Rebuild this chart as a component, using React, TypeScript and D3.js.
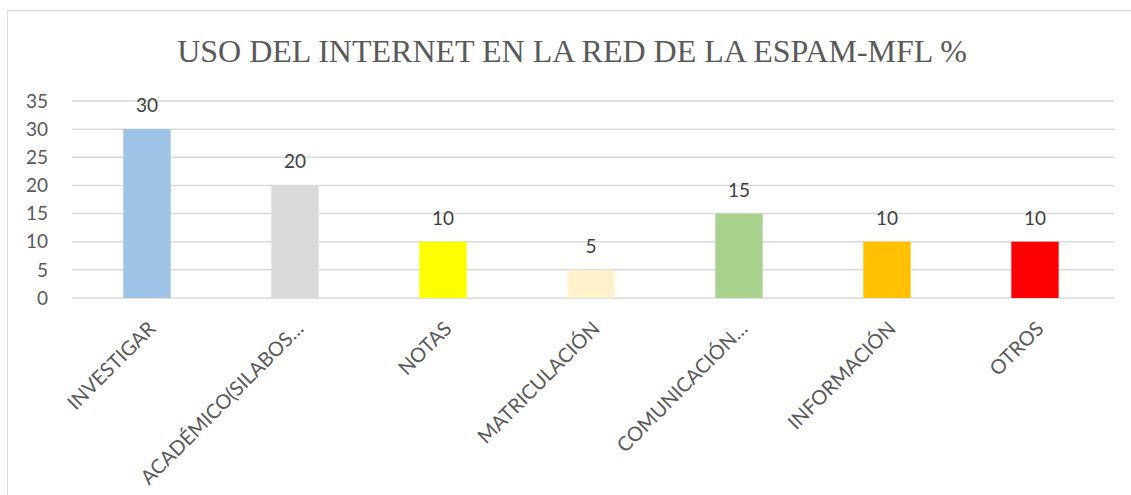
import React from "react";
import * as d3 from "d3";

const categories = ["INVESTIGAR", "ACADÉMICO(SILABOS…", "NOTAS", "MATRICULACIÓN", "COMUNICACIÓN…", "INFORMACIÓN", "OTROS"];
const values = [30, 20, 10, 5, 15, 10, 10];
const colors = ["#9dc3e6", "#d9d9d9", "#ffff00", "#fff2cc", "#a9d18e", "#ffc000", "#ff0000"];
const yTicks = [0, 5, 10, 15, 20, 25, 30, 35];
const title = "USO DEL INTERNET EN LA RED DE LA ESPAM-MFL %";

export default function App() {
  const W = 1131, H = 495;
  const x = d3.scaleBand<string>().domain(categories).range([73, 1109]).paddingInner(0.68).paddingOuter(0.34);
  const y = d3.scaleLinear().domain([0, 35]).range([298, 101]);
  const font = "Lato, 'Open Sans', sans-serif";
  return (
    <svg width={W} height={H} style={{ position: "absolute", left: 0, top: 0, background: "#fff" }}>
      <rect x={7.5} y={10.5} width={1140} height={500} fill="#fff" stroke="#d9d9d9" strokeWidth={1} />
      <text x={572} y={62} textAnchor="middle" fontFamily="'Liberation Serif', 'Times New Roman', serif" fontSize={32} fill="#595959">{title}</text>
      {yTicks.map(t => (
        <g key={t}>
          <line x1={72} x2={1114} y1={y(t)} y2={y(t)} stroke="#d9d9d9" strokeWidth={1.5} />
          <text x={48} y={y(t)} dy="0.35em" textAnchor="end" fontFamily={font} fontSize={19} fill="#595959">{t}</text>
        </g>
      ))}
      {categories.map((c, i) => {
        const bx = x(c)!;
        const cx = bx + x.bandwidth() / 2;
        return (
          <g key={c}>
            <rect x={bx} y={y(values[i])} width={x.bandwidth()} height={y(0) - y(values[i])} fill={colors[i]} />
            <text x={cx} y={y(values[i]) - 17} textAnchor="middle" fontFamily={font} fontSize={19} fill="#404040">{values[i]}</text>
            <text transform={`translate(${cx + 5},${325}) rotate(-45)`} textAnchor="end" dy="0.35em" fontFamily={font} fontSize={20} fill="#595959">{c}</text>
          </g>
        );
      })}
    </svg>
  );
}
